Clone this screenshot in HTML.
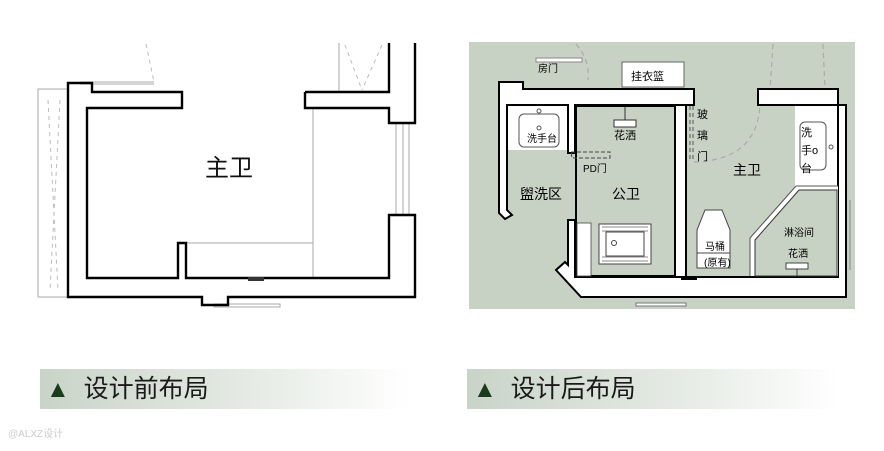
<!DOCTYPE html>
<html><head><meta charset="utf-8"><style>
html,body{margin:0;padding:0;background:#fff;width:884px;height:451px;overflow:hidden}
svg text{font-family:"Liberation Sans","Noto Sans CJK SC",sans-serif}
.ban{position:absolute;height:40px;top:369px;font-family:"Liberation Sans","Noto Sans CJK SC",sans-serif;font-size:25px;color:#1a1a1a;line-height:40px;padding-left:6px}
.ban b{color:#1c3a1c;font-weight:normal;font-size:24px}
</style></head><body>
<svg width="884" height="451" style="position:absolute;left:0;top:0">
<g fill="none" stroke="#aaa" stroke-width="1">
<rect x="38" y="89" width="30" height="208"/>
<line x1="80" y1="82" x2="154" y2="82"/><line x1="80" y1="84" x2="154" y2="84"/>
<line x1="339" y1="43" x2="339" y2="92"/>
<line x1="313" y1="108" x2="313" y2="278"/>
<line x1="187" y1="243" x2="313" y2="243"/>
<line x1="396" y1="123" x2="396" y2="215"/><line x1="403" y1="123" x2="403" y2="215"/><line x1="409" y1="123" x2="409" y2="215"/>
<rect x="214" y="304" width="66" height="3"/>
</g>
<g fill="none" stroke="#bbb" stroke-dasharray="4,4">
<path d="M146 44 L154 82"/><path d="M48 100 L58 290 M60 100 L50 290"/>
<path d="M345 45 L362 90 M382 45 L362 90"/>
</g>
<g fill="none" stroke="#000" stroke-width="2.4">
<path d="M68 297 L68 83 L92 83 L92 92 L182 92 L182 108 L87 108 L87 278 L178 278 L178 243 L186 243 L186 278 L389 278 L389 215 L415 215 L415 297 L228 297 L228 305 L202 305 L202 297 Z"/>
<path d="M305 92 L389 92 L389 43 M305 92 L305 108 L389 108 L389 123 L415 123 L415 43"/>
</g>
<rect x="248" y="277" width="16" height="4" fill="#333"/>
<text x="205" y="176" font-size="24" fill="#111">主卫</text>

<rect x="469" y="42" width="386" height="267" fill="#c7d2c5"/>
<g fill="none" stroke="#aaa" stroke-dasharray="5,4" stroke-width="1.2">
<path d="M576 44 Q590 60 588 80"/>
<path d="M694 162 Q760 160 760 100"/>
<path d="M773 44 L770 90 M823 44 L825 90"/>
</g>
<g fill="#fff" stroke="#000" stroke-width="2">
<path d="M499 82 L523 82 L523 89 L694 89 L694 105 L575 105 L575 153 L568 153 L568 105 L507 105 L507 210 L512 215 L505 219 L499 213 Z"/>
<path d="M675 105 L686 105 L686 277 L675 277 Z"/>
<path d="M758 89 L838 89 L838 105 L758 105 Z"/>
<path d="M568 220 L575 220 L575 277 L838 277 L838 105 L846 105 L846 297 L581 297 L556 270 L565 262 L568 265 Z"/>
</g>
<rect x="576" y="106" width="99" height="170" fill="#c7d2c5" stroke="#000" stroke-width="2"/>
<rect x="536" y="58" width="46" height="4" fill="#fff" stroke="#888"/>
<rect x="622" y="62" width="62" height="25" fill="#fff" stroke="#666"/>
<text x="631" y="80" font-size="11">挂衣篮</text>
<text x="538" y="72" font-size="10">房门</text>
<rect x="508" y="106" width="59" height="44" fill="#fff"/>
<rect x="519" y="114" width="40" height="33" rx="5" fill="#fff" stroke="#555"/>
<circle cx="539" cy="111" r="2" fill="none" stroke="#555"/>
<circle cx="539" cy="128" r="2" fill="none" stroke="#555"/>
<text x="527" y="142" font-size="10">洗手台</text>
<line x1="625" y1="107" x2="625" y2="120" stroke="#333"/>
<rect x="614" y="120" width="22" height="7" fill="#fff" stroke="#333"/>
<text x="614" y="139" font-size="11">花洒</text>
<path d="M571 152 L610 152 L610 158 L572 158 Z" fill="none" stroke="#444" stroke-dasharray="4,2"/>
<text x="583" y="172" font-size="10">PD门</text>
<text x="520" y="199" font-size="14">盥洗区</text>
<text x="612" y="199" font-size="14">公卫</text>
<rect x="577" y="223" width="14" height="53" fill="#fff" stroke="#444" stroke-width="0.8"/>
<rect x="599" y="224" width="52" height="40" fill="#fff" stroke="#444"/>
<g stroke="#666" stroke-width="0.7"><path d="M602 227 H648 M602 231 H648 M602 257 H648 M602 261 H648"/></g>
<rect x="606" y="232" width="38" height="24" fill="#fff" stroke="#444"/>
<circle cx="614" cy="243" r="2.5" fill="none" stroke="#444"/>
<g stroke="#555" stroke-dasharray="4,3"><line x1="690" y1="106" x2="690" y2="162"/><line x1="693" y1="106" x2="693" y2="162"/></g>
<text x="697" y="118" font-size="11">玻</text><text x="697" y="139" font-size="11">璃</text><text x="697" y="160" font-size="11">门</text>
<text x="733" y="175" font-size="14">主卫</text>
<rect x="681" y="276" width="16" height="4" fill="#000"/>
<rect x="795" y="106" width="42" height="80" fill="#fff"/>
<rect x="800" y="122" width="26" height="48" rx="5" fill="#fff" stroke="#555"/>
<circle cx="831" cy="147" r="2" fill="none" stroke="#555"/>
<text x="801" y="136" font-size="11">洗</text><text x="801" y="154" font-size="11">手o</text><text x="801" y="172" font-size="11">台</text>
<path d="M796 186 L838 186 L838 276 L750 276 L750 238 Z" fill="#fff"/>
<path d="M799 190 L837 190 L837 276 L755 276 L755 240 Z" fill="#c7d2c5" stroke="#333"/>
<path d="M796 186 L838 186 M796 186 L750 238 L750 276" fill="none" stroke="#555"/>
<text x="784" y="236" font-size="10">淋浴间</text>
<text x="788" y="257" font-size="10">花洒</text>
<rect x="786" y="263" width="22" height="6" fill="#fff" stroke="#444"/>
<line x1="797" y1="269" x2="797" y2="276" stroke="#444"/>
<path d="M705 210 L722 210 L730 230 L730 268 L697 268 L697 230 Z" fill="#fff" stroke="#444"/>
<line x1="697" y1="253" x2="730" y2="253" stroke="#444"/>
<text x="705" y="250" font-size="10">马桶</text>
<text x="704" y="266" font-size="10">(原有)</text>
<line x1="850" y1="200" x2="850" y2="270" stroke="#888"/>
<rect x="636" y="303" width="50" height="3" fill="#fff" stroke="#777"/>
<text x="8" y="437" font-size="10" fill="#ccc">@ALXZ设计</text>
</svg>
<div class="ban" style="left:40px;width:364px;background:linear-gradient(90deg,#c9d4c8,#e7ece6 60%,#fff)"><b>▲</b>&nbsp; 设计前布局</div>
<div class="ban" style="left:467px;width:367px;background:linear-gradient(90deg,#c9d4c8,#e7ece6 60%,#fff)"><b>▲</b>&nbsp; 设计后布局</div>
</body></html>
